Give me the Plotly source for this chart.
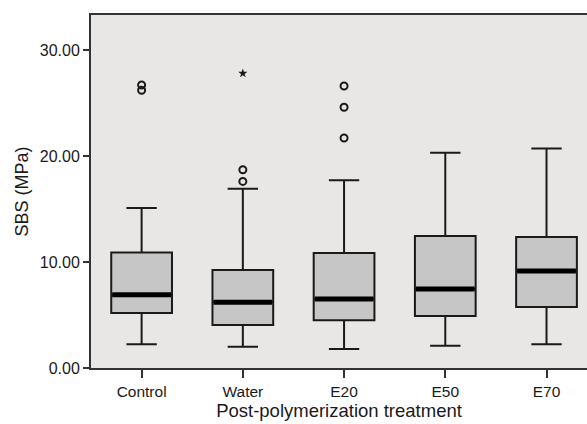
import plotly.graph_objects as go

categories = ["Control", "Water", "E20", "E50", "E70"]
lower_whisker = [2.25, 2.0, 1.8, 2.1, 2.25]
q1_vals = [5.2, 4.05, 4.5, 4.9, 5.75]
median_vals = [6.9, 6.2, 6.5, 7.45, 9.15]
q3_vals = [10.9, 9.25, 10.85, 12.45, 12.35]
upper_whisker = [15.1, 16.9, 17.7, 20.3, 20.7]
outlier_cat = ["Control", "Control", "Water", "Water", "E20", "E20", "E20"]
outlier_vals = [26.2, 26.7, 17.6, 18.7, 21.7, 24.6, 26.6]
extreme_cat = ["Water"]
extreme_vals = [27.8]
y_ticks = [0, 10, 20, 30]
y_ticklabels = ["0.00", "10.00", "20.00", "30.00"]

idx = {c: i for i, c in enumerate(categories)}
xs = list(range(len(categories)))

fig = go.Figure()
fig.add_trace(go.Box(
    x=xs, q1=q1_vals, median=median_vals, q3=q3_vals,
    lowerfence=lower_whisker, upperfence=upper_whisker,
    fillcolor="#C6C6C6", line=dict(color="#1a1a1a", width=2),
    width=0.6, whiskerwidth=0.5, boxpoints=False, showlegend=False,
    hoverinfo="skip",
))
# thick median lines
for i, m in enumerate(median_vals):
    fig.add_trace(go.Scatter(
        x=[i - 0.29, i + 0.29], y=[m, m], mode="lines",
        line=dict(color="black", width=5), showlegend=False, hoverinfo="skip",
    ))
fig.add_trace(go.Scatter(
    x=[idx[c] for c in outlier_cat], y=outlier_vals, mode="markers",
    marker=dict(symbol="circle-open", size=7, color="#1a1a1a", line=dict(width=2)),
    showlegend=False,
))
fig.add_trace(go.Scatter(
    x=[idx[c] for c in extreme_cat], y=extreme_vals, mode="markers",
    marker=dict(symbol="star", size=7, color="#1a1a1a"),
    showlegend=False,
))

# small extension of the baseline to the left of the y axis
fig.add_shape(type="line", xref="paper", yref="y", x0=-0.015, x1=0, y0=0, y1=0,
              line=dict(color="#333333", width=2))

fig.update_layout(
    width=587, height=424,
    margin=dict(l=91, r=0, t=15, b=56, pad=0),
    paper_bgcolor="white", plot_bgcolor="#E8E7E5",
    font=dict(family="Liberation Sans, Arial, sans-serif", color="#1a1a1a", size=16),
    xaxis=dict(
        range=[-0.5, 4.4], tickvals=xs, ticktext=categories, automargin=False,
        showgrid=False, zeroline=False, showline=True, linecolor="#333333", linewidth=2,
        mirror=True, ticks="outside", ticklen=8, tickcolor="#333333", tickwidth=2,
        tickfont=dict(size=15.5),
        title=dict(text="Post-polymerization treatment", font=dict(size=18.5), standoff=4),
    ),
    yaxis=dict(
        range=[0, 33.3], tickvals=y_ticks, ticktext=y_ticklabels, automargin=False,
        showgrid=False, zeroline=False, showline=True, linecolor="#333333", linewidth=2,
        ticks="outside", ticklen=6, tickcolor="#333333", tickwidth=2,
        tickfont=dict(size=16),
        title=dict(text="SBS (MPa)", font=dict(size=18), standoff=6),
    ),
)

fig.write_html(
    "out.html",
    config={"displayModeBar": False},
    post_script="document.body.style.margin='0';document.body.style.overflow='hidden';",
)
